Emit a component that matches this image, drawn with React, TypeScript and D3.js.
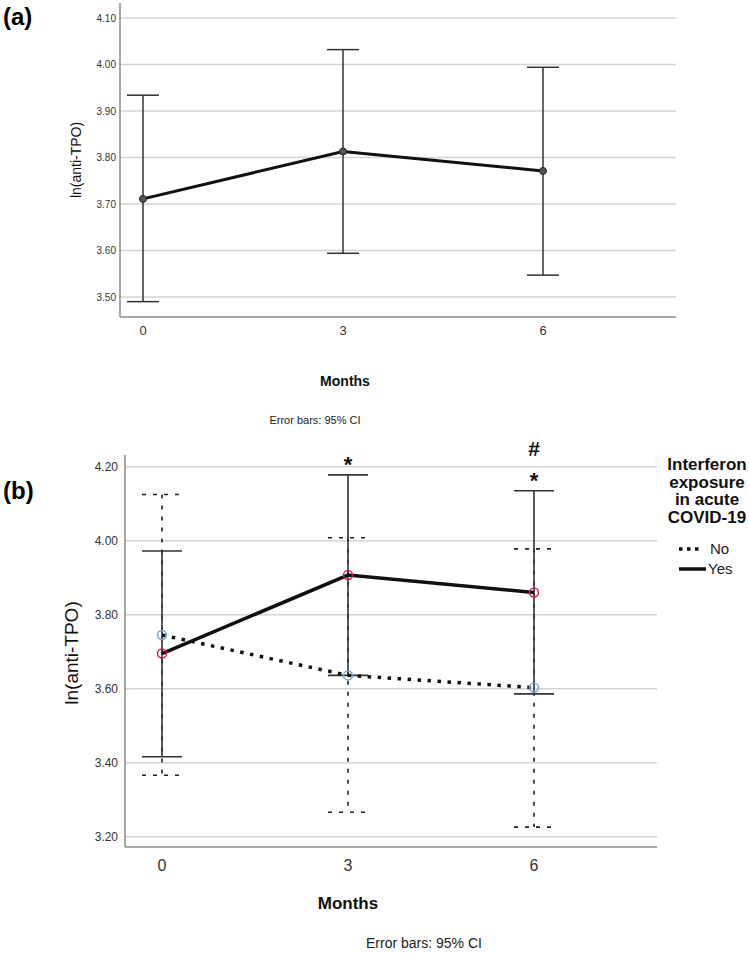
import React from "react";
import * as d3 from "d3";

const months = [0, 3, 6];

// Panel (a): overall ln(anti-TPO), 95% CI
const aMean = [3.711, 3.813, 3.771];
const aLower = [3.49, 3.594, 3.547];
const aUpper = [3.934, 4.032, 3.994];
const aTicks = [3.5, 3.6, 3.7, 3.8, 3.9, 4.0, 4.1];

// Panel (b): by interferon exposure
const noMean = [3.745, 3.636, 3.603];
const noLower = [3.366, 3.266, 3.226];
const noUpper = [4.125, 4.008, 3.978];
const yesMean = [3.695, 3.907, 3.86];
const yesLower = [3.416, 3.636, 3.586];
const yesUpper = [3.972, 4.178, 4.135];
const bTicks = [3.2, 3.4, 3.6, 3.8, 4.0, 4.2];

const starMonths = [3, 6];
const hashMonths = [6];

const legendTitle = ["Interferon", "exposure", "in acute", "COVID-19"];
const legendLabels = ["No", "Yes"];

const FONT = "'Liberation Sans', Arial, sans-serif";
const fmt = d3.format(".2f");

export default function App() {
  // Panel a scales
  const ax = d3.scaleLinear().domain([0, 6]).range([143, 543]);
  const ay = d3.scaleLinear().domain([3.5, 4.1]).range([297, 18]);
  const aFrame = { left: 120, right: 676, top: 3, bottom: 317 };

  // Panel b scales
  const bx = d3.scaleLinear().domain([0, 6]).range([162, 534]);
  const by = d3.scaleLinear().domain([3.2, 4.2]).range([836.7, 466.7]);
  const bFrame = { left: 125, right: 657, top: 455, bottom: 847 };

  const aLine = d3
    .line<number>()
    .x((_, i) => ax(months[i]))
    .y((d) => ay(d));
  const bLineX = (i: number) => bx(months[i]);
  const noLine = d3
    .line<number>()
    .x((_, i) => bLineX(i))
    .y((d) => by(d));
  const yesLine = d3
    .line<number>()
    .x((_, i) => bLineX(i))
    .y((d) => by(d));

  const axisColor = "#8a8a8a";
  const gridColor = "#d4d4d4";
  const barColor = "#333";

  return (
    <svg
      width={749}
      height={953}
      style={{ position: "absolute", left: 0, top: 0, background: "#fff" }}
      fontFamily={FONT}
    >
      <rect x={0} y={0} width={749} height={953} fill="#fff" />

      {/* ---------- Panel (a) ---------- */}
      <text x={3} y={25} fontSize={24} fontWeight="bold" fill="#000">
        (a)
      </text>
      {aTicks.map((t) => (
        <g key={"ag" + t}>
          <line
            x1={aFrame.left}
            x2={aFrame.right}
            y1={ay(t)}
            y2={ay(t)}
            stroke={gridColor}
            strokeWidth={1.5}
          />
          <text
            x={116}
            y={ay(t)}
            dy="0.35em"
            textAnchor="end"
            fontSize={10}
            fill="#333"
          >
            {fmt(t)}
          </text>
        </g>
      ))}
      <line x1={aFrame.left} x2={aFrame.left} y1={aFrame.top} y2={aFrame.bottom} stroke={axisColor} strokeWidth={1.5} />
      <line x1={aFrame.left} x2={aFrame.right} y1={aFrame.bottom} y2={aFrame.bottom} stroke={axisColor} strokeWidth={1.5} />
      {months.map((m) => (
        <text key={"axt" + m} x={ax(m)} y={330} dy="0.35em" textAnchor="middle" fontSize={13} fill="#333">
          {m}
        </text>
      ))}
      <text x={345} y={381} dy="0.35em" textAnchor="middle" fontSize={14} fontWeight="bold" fill="#111">
        Months
      </text>
      <text x={315} y={420} dy="0.35em" textAnchor="middle" fontSize={11} fill="#222">
        Error bars: 95% CI
      </text>
      <text
        transform={`translate(76,160) rotate(-90)`}
        dy="0.35em"
        textAnchor="middle"
        fontSize={14}
        fill="#111"
      >
        ln(anti-TPO)
      </text>
      {months.map((m, i) => (
        <g key={"aeb" + m} stroke={barColor} strokeWidth={1.5}>
          <line x1={ax(m)} x2={ax(m)} y1={ay(aUpper[i])} y2={ay(aLower[i])} />
          <line x1={ax(m) - 16} x2={ax(m) + 16} y1={ay(aUpper[i])} y2={ay(aUpper[i])} />
          <line x1={ax(m) - 16} x2={ax(m) + 16} y1={ay(aLower[i])} y2={ay(aLower[i])} />
        </g>
      ))}
      <path d={aLine(aMean) || ""} fill="none" stroke="#111" strokeWidth={3} />
      {months.map((m, i) => (
        <circle key={"am" + m} cx={ax(m)} cy={ay(aMean[i])} r={3.5} fill="#555" stroke="#222" strokeWidth={1} />
      ))}

      {/* ---------- Panel (b) ---------- */}
      <text x={3} y={499} fontSize={24} fontWeight="bold" fill="#000">
        (b)
      </text>
      {bTicks.map((t) => (
        <g key={"bg" + t}>
          <line
            x1={bFrame.left}
            x2={bFrame.right}
            y1={by(t)}
            y2={by(t)}
            stroke={gridColor}
            strokeWidth={1.5}
          />
          <text
            x={118}
            y={by(t)}
            dy="0.35em"
            textAnchor="end"
            fontSize={12}
            fill="#333"
          >
            {fmt(t)}
          </text>
        </g>
      ))}
      <line x1={bFrame.left} x2={bFrame.left} y1={bFrame.top} y2={bFrame.bottom} stroke={axisColor} strokeWidth={1.5} />
      <line x1={bFrame.left} x2={bFrame.right} y1={bFrame.bottom} y2={bFrame.bottom} stroke={axisColor} strokeWidth={1.5} />
      {months.map((m) => (
        <text key={"bxt" + m} x={bx(m)} y={865} dy="0.35em" textAnchor="middle" fontSize={16} fill="#333">
          {m}
        </text>
      ))}
      <text x={348} y={903} dy="0.35em" textAnchor="middle" fontSize={17} fontWeight="bold" fill="#111">
        Months
      </text>
      <text x={424} y={943} dy="0.35em" textAnchor="middle" fontSize={14} fill="#222">
        Error bars: 95% CI
      </text>
      <text
        transform={`translate(71,653) rotate(-90)`}
        dy="0.35em"
        textAnchor="middle"
        fontSize={19}
        fill="#111"
      >
        ln(anti-TPO)
      </text>

      {/* No: dashed error bars */}
      {months.map((m, i) => (
        <g key={"bnoeb" + m} stroke="#222" strokeWidth={1.6} strokeDasharray="4 7">
          <line x1={bx(m)} x2={bx(m)} y1={by(noUpper[i])} y2={by(noLower[i])} />
          <line x1={bx(m) - 20} x2={bx(m) + 20} y1={by(noUpper[i])} y2={by(noUpper[i])} />
          <line x1={bx(m) - 20} x2={bx(m) + 20} y1={by(noLower[i])} y2={by(noLower[i])} />
        </g>
      ))}
      {/* Yes: solid error bars */}
      {months.map((m, i) => (
        <g key={"byeseb" + m} stroke={barColor} strokeWidth={1.6}>
          <line x1={bx(m)} x2={bx(m)} y1={by(yesUpper[i])} y2={by(yesLower[i])} />
          <line x1={bx(m) - 20} x2={bx(m) + 20} y1={by(yesUpper[i])} y2={by(yesUpper[i])} />
          <line x1={bx(m) - 20} x2={bx(m) + 20} y1={by(yesLower[i])} y2={by(yesLower[i])} />
        </g>
      ))}
      <path d={noLine(noMean) || ""} fill="none" stroke="#111" strokeWidth={3.5} strokeDasharray="3.5 6.5" />
      <path d={yesLine(yesMean) || ""} fill="none" stroke="#111" strokeWidth={3.5} />
      {months.map((m, i) => (
        <circle key={"bnom" + m} cx={bx(m)} cy={by(noMean[i])} r={4.5} fill="none" stroke="#6fa8dc" strokeWidth={1.5} />
      ))}
      {months.map((m, i) => (
        <circle key={"byesm" + m} cx={bx(m)} cy={by(yesMean[i])} r={4.5} fill="none" stroke="#d6204e" strokeWidth={1.5} />
      ))}

      {/* significance marks */}
      {starMonths.map((m) => {
        const i = months.indexOf(m);
        return (
          <text key={"star" + m} x={bx(m)} y={by(yesUpper[i]) - 3} textAnchor="middle" fontSize={22} fontWeight="bold" fill="#111">
            *
          </text>
        );
      })}
      {hashMonths.map((m) => {
        const i = months.indexOf(m);
        return (
          <text key={"hash" + m} x={bx(m)} y={by(yesUpper[i]) - 35} textAnchor="middle" fontSize={21} fontWeight="bold" fill="#111">
            #
          </text>
        );
      })}

      {/* legend */}
      {legendTitle.map((t, i) => (
        <text key={"lt" + i} x={707} y={464 + i * 17.7} dy="0.35em" textAnchor="middle" fontSize={17} fontWeight="bold" fill="#111">
          {t}
        </text>
      ))}
      <line x1={679} x2={700} y1={549} y2={549} stroke="#111" strokeWidth={3.5} strokeDasharray="3.5 4.5" />
      <text x={710} y={549} dy="0.35em" fontSize={15} fill="#222">
        {legendLabels[0]}
      </text>
      <line x1={679} x2={706} y1={569} y2={569} stroke="#111" strokeWidth={3.5} />
      <text x={708} y={569} dy="0.35em" fontSize={15} fill="#222">
        {legendLabels[1]}
      </text>
    </svg>
  );
}
